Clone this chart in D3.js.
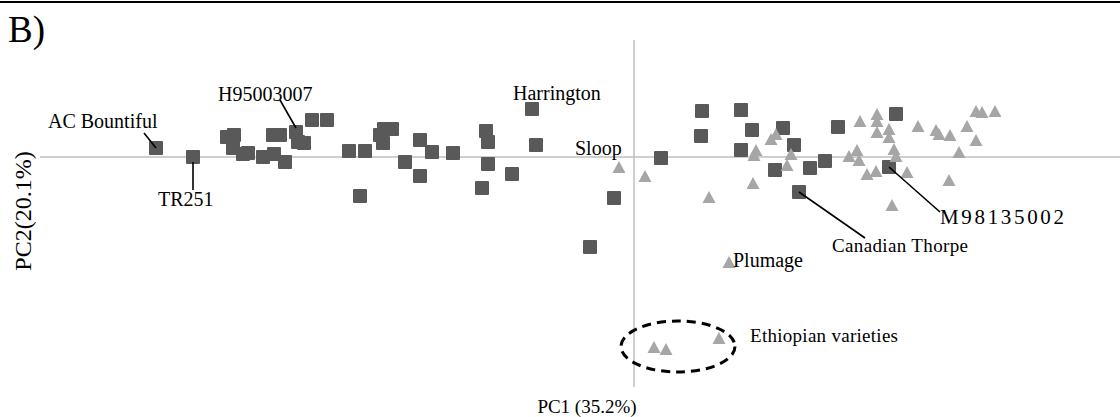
<!DOCTYPE html>
<html><head><meta charset="utf-8">
<script src="https://cdn.jsdelivr.net/npm/d3@7"></script>
<style>html,body{margin:0;padding:0;background:#fff;}svg{display:block;}text{font-family:"Liberation Serif","Times New Roman",serif;fill:#000;}</style>
</head><body><svg id="c" width="1120" height="417"></svg>
<script>
// Group 1 (dark squares): [PC1, PC2]
const squarePC1 = [-4.78,-4.41,-4.07,-4.00,-4.01,-3.91,-3.86,-3.71,-3.60,-3.49,-3.61,-3.54,-3.38,-3.36,-3.30,-3.22,-3.07,-2.85,-2.69,-2.54,-2.50,-2.42,-2.51,-2.29,-2.14,-2.14,-2.02,-1.81,-1.48,-1.46,-1.46,-1.52,-1.22,-2.74,-1.02,-0.98,-0.20,-0.44,0.27,0.68,1.07,0.67,1.18,1.49,1.07,1.60,1.41,1.76,1.91,2.04,1.65,2.62,2.55];
const squarePC2 = [0.09,0.00,0.20,0.22,0.09,0.03,0.04,0.00,0.03,-0.05,0.22,0.22,0.25,0.15,0.14,0.37,0.37,0.06,0.06,0.22,0.28,0.28,0.14,-0.05,0.17,-0.19,0.05,0.04,0.26,0.15,-0.07,-0.31,-0.17,-0.39,0.48,0.12,-0.41,-0.90,-0.01,0.46,0.47,0.21,0.27,0.29,0.07,0.12,-0.13,-0.11,-0.04,0.30,-0.35,0.43,-0.10];
// Group 2 (light triangles)
const trianglePC1 = [-0.15,0.11,0.75,1.19,1.22,1.20,1.37,1.42,1.57,1.53,2.26,2.43,2.43,2.43,2.55,2.55,2.84,3.02,3.05,3.16,3.33,3.42,3.48,3.61,3.42,2.23,2.15,2.25,2.60,2.62,3.25,2.33,2.42,2.73,3.15,2.58,0.95,0.20,0.32,0.85];
const trianglePC2 = [-0.10,-0.19,-0.40,-0.26,0.07,0.02,0.18,0.23,0.03,-0.08,0.36,0.43,0.36,0.25,0.28,0.20,0.31,0.27,0.23,0.22,0.31,0.46,0.45,0.46,0.17,0.07,0.01,-0.03,0.08,0.01,0.05,-0.17,-0.14,-0.15,-0.23,-0.48,-1.05,-1.90,-1.92,-1.81];
const xDomain = [-5.94, 4.86];
const yDomain = [1.17, -2.30];
const xTitle = "PC1 (35.2%)";
const yTitle = "PC2(20.1%)";
const panelLabel = "B)";

const svg = d3.select("#c");
const x = d3.scaleLinear().domain(xDomain).range([40,1120]);
const y = d3.scaleLinear().domain(yDomain).range([40,387]);

// top rule
svg.append("line").attr("x1",0).attr("x2",1120).attr("y1",2).attr("y2",2).attr("stroke","#000").attr("stroke-width",2.2);

// axes through origin
svg.append("line").attr("x1",x(xDomain[0])).attr("x2",x(xDomain[1])).attr("y1",y(0)).attr("y2",y(0)).attr("stroke","#bfbfbf").attr("stroke-width",1.5);
svg.append("line").attr("x1",x(0)).attr("x2",x(0)).attr("y1",y(yDomain[0])).attr("y2",y(yDomain[1])).attr("stroke","#bfbfbf").attr("stroke-width",1.5);

// points
const squares = squarePC1.map((v,i)=>({x:v,y:squarePC2[i]}));
const tris = trianglePC1.map((v,i)=>({x:v,y:trianglePC2[i]}));
const s = 14;
svg.append("g").selectAll("rect").data(squares).join("rect")
  .attr("x",d=>x(d.x)-s/2).attr("y",d=>y(d.y)-s/2).attr("width",s).attr("height",s).attr("rx",1)
  .attr("fill","#595959");
const tw = 13, th = 12;
svg.append("g").selectAll("path").data(tris).join("path")
  .attr("d",d=>{const cx=x(d.x), cy=y(d.y); return `M${cx},${cy-th/2}L${cx+tw/2},${cy+th/2}L${cx-tw/2},${cy+th/2}Z`;})
  .attr("fill","#a6a6a6");

// leader lines (from point to label, data units)
const leaders = [
  [[-4.78,0.09],[-4.90,0.24]],
  [[-4.41,-0.05],[-4.41,-0.33]],
  [[-3.38,0.29],[-3.54,0.57]],
  [[2.55,-0.10],[3.06,-0.55]],
  [[1.65,-0.35],[2.31,-0.81]]
];
svg.append("g").selectAll("line").data(leaders).join("line")
  .attr("x1",d=>x(d[0][0])).attr("y1",d=>y(d[0][1])).attr("x2",d=>x(d[1][0])).attr("y2",d=>y(d[1][1]))
  .attr("stroke","#000").attr("stroke-width",1.6);

// ellipse around Ethiopian varieties
svg.append("ellipse").attr("cx",x(0.44)).attr("cy",y(-1.895)).attr("rx",57).attr("ry",25.5)
  .attr("fill","none").attr("stroke","#000").attr("stroke-width",3).attr("stroke-dasharray","9,6");

// labels
const labels = [
  {t:"AC Bountiful", x:-5.86, y:0.29, fs:20},
  {t:"H95003007", x:-4.16, y:0.56, fs:20},
  {t:"TR251", x:-4.76, y:-0.49, fs:20},
  {t:"Harrington", x:-1.21, y:0.57, fs:20},
  {t:"Sloop", x:-0.59, y:0.02, fs:20},
  {t:"M98135002", x:3.06, y:-0.67, fs:21, len:124},
  {t:"Canadian Thorpe", x:1.98, y:-0.95, fs:19, len:136},
  {t:"Plumage", x:0.99, y:-1.10, fs:20},
  {t:"Ethiopian varieties", x:1.16, y:-1.85, fs:19, len:148}
];
labels.forEach(l=>{
  const t = svg.append("text").attr("x",x(l.x)).attr("y",y(l.y)).attr("font-size",l.fs).text(l.t);
  if(l.len) t.attr("textLength",l.len).attr("lengthAdjust","spacing");
});

svg.append("text").attr("x",587).attr("y",413).attr("text-anchor","middle").attr("font-size",19).text(xTitle);
svg.append("text").attr("transform","translate(31,211) rotate(-90)").attr("text-anchor","middle").attr("font-size",24).text(yTitle);
svg.append("text").attr("x",8).attr("y",42).attr("font-size",37).text(panelLabel);
</script></body></html>
